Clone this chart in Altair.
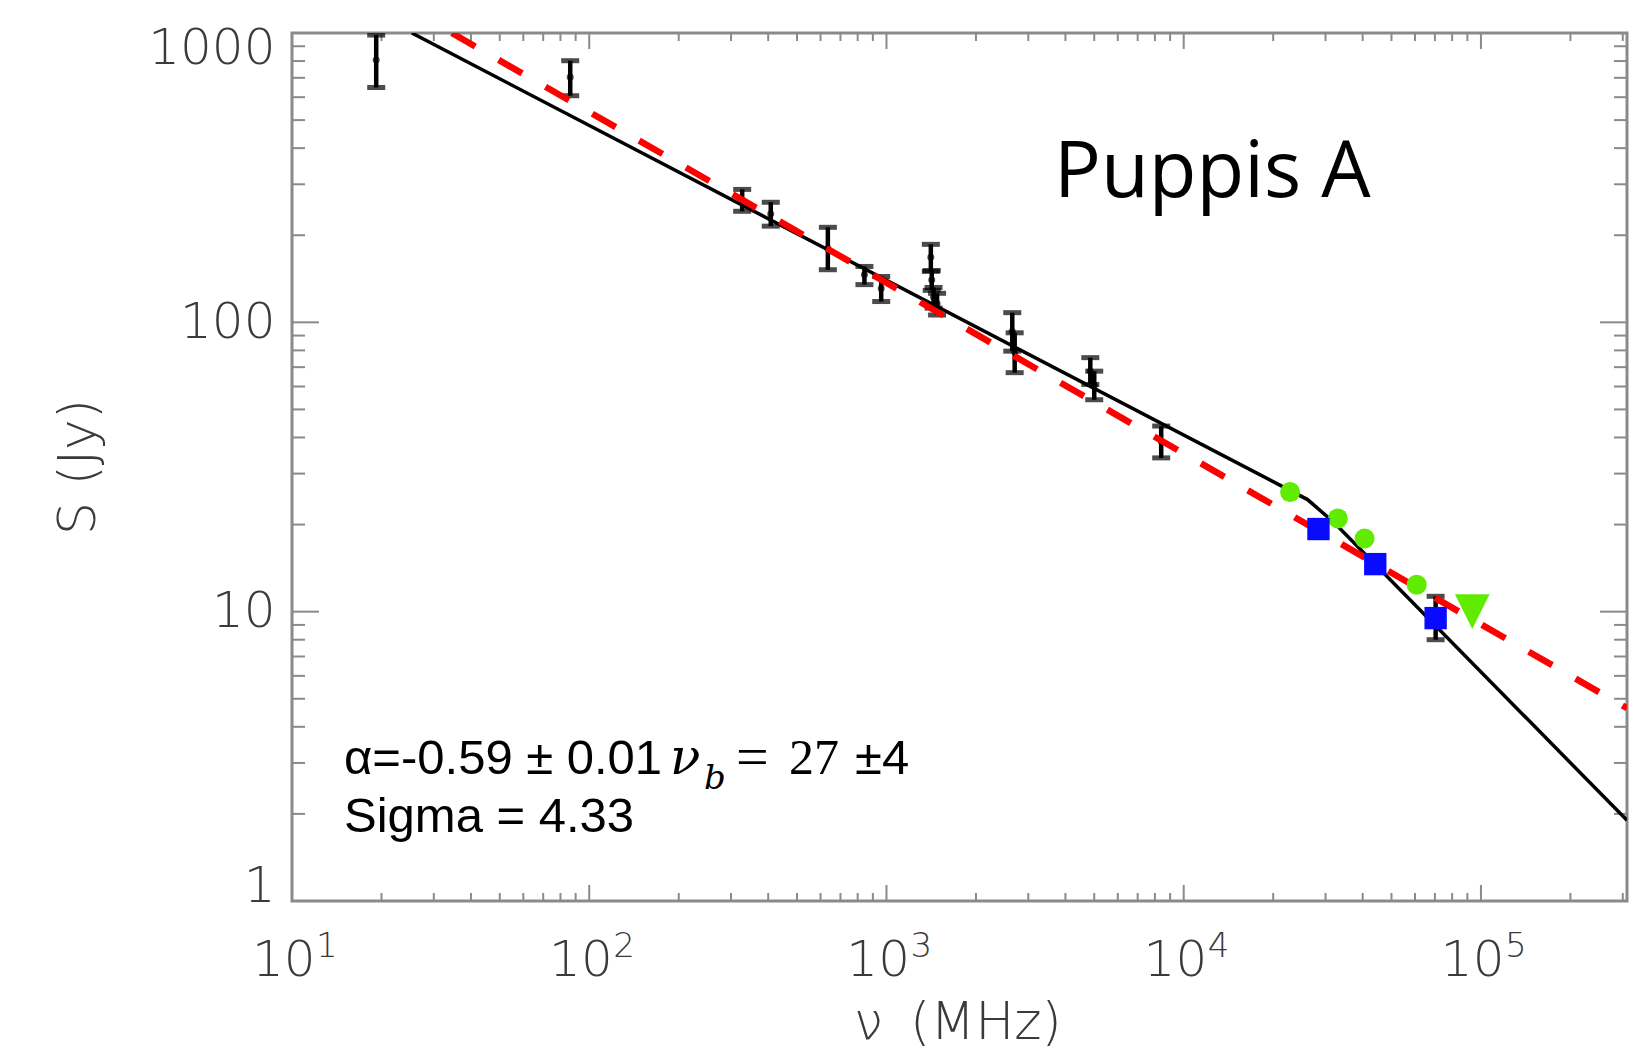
import altair as alt
import pandas as pd

# ---------------- data ----------------
# black points with error bars: frequency (MHz), flux (Jy), lower, upper
eb_freq = [19.2, 86.3, 327, 408, 635, 843, 960, 1410, 1420, 1440, 1480,
           2650, 2700, 4850, 5000, 8400, 70400]
eb_flux = [807, 703, 264, 237, 180, 146, 131, 168, 140, 122, 116,
           93, 79, 67.8, 60.5, 38.7, 9.5]
eb_lo = [648, 607, 242, 215, 152, 135, 118, 150, 129, 112, 106,
         79.5, 67, 61, 54, 34.0, 8.0]
eb_hi = [984, 802, 288, 260, 213, 156, 144, 186, 151, 132, 126,
         108, 92, 75.5, 67.8, 43.8, 11.3]

# WMAP (green circles) and upper limit (green triangle)
wmap_freq = [22800, 33000, 40600, 60800]
wmap_flux = [25.9, 21.0, 17.9, 12.4]
lim_freq = [93500]
lim_flux = [10.0]

# Planck (blue squares)
planck_freq = [28400, 44100, 70400]
planck_flux = [19.3, 14.6, 9.5]

# fitted curves (vertices)
fit_freq = [25.3, 26100, 32100, 310000]
fit_flux = [1000, 24.4, 20.3, 1.9]
pl_freq = [34.5, 310000]
pl_flux = [1000, 4.64]

# axis ticks and labels
x_major = [10, 100, 1000, 10000, 100000]
x_exp = ["1", "2", "3", "4", "5"]
x_minor = [m * d for d in [10, 100, 1000, 10000, 100000] for m in range(2, 10)
           if m * d <= 310000]
y_major = [1, 10, 100, 1000]
y_minor = [m * d for d in [1, 10, 100] for m in range(2, 10)]

# ---------------- styling ----------------
W, H = 1335, 868
FRAME = "#8a8a8a"
LABEL = "#3a3a3a"
LFONT = "DejaVu Sans"
GREEN = "#60eb00"
BLUE = "#0a0aff"

xs = alt.Scale(type="log", domain=[10, 310000], nice=False)
ys = alt.Scale(type="log", domain=[1, 1000], nice=False)

x_axis = alt.Axis(values=x_major, title=None, grid=False, ticks=False, domain=False,
                  labelExpr="'10'", labelAlign="right", labelOffset=23,
                  labelFontSize=50, labelFont=LFONT, labelFontWeight=300,
                  labelColor=LABEL, labelPadding=34, labelFlush=False)
y_axis = alt.Axis(values=y_major, title=None, grid=False, ticks=False, domain=False,
                  labelExpr="format(datum.value, 'd')",
                  labelFontSize=50, labelFont=LFONT, labelFontWeight=300,
                  labelColor=LABEL, labelPadding=17, labelFlush=True,
                  labelFlushOffset=10)


def X(f):
    return alt.X(f, type="quantitative", scale=xs, axis=x_axis)


def Y(f):
    return alt.Y(f, type="quantitative", scale=ys, axis=y_axis)


eb = pd.DataFrame({"f": eb_freq, "s": eb_flux, "lo": eb_lo, "hi": eb_hi})
wm = pd.DataFrame({"f": wmap_freq, "s": wmap_flux})
lim = pd.DataFrame({"f": lim_freq, "s": lim_flux})
pl = pd.DataFrame({"f": planck_freq, "s": planck_flux})
fit = pd.DataFrame({"f": fit_freq, "s": fit_flux})
pwl = pd.DataFrame({"f": pl_freq, "s": pl_flux})
xl = pd.DataFrame({"v": x_major, "e": x_exp})

layers = []


# ticks (inward, on all four sides)
def yticks(vals, length):
    d = pd.DataFrame({"v": vals})
    left = alt.Chart(d).mark_rule(color=FRAME, strokeWidth=2).encode(
        y=Y("v"), x=alt.value(0), x2=alt.value(length))
    right = alt.Chart(d).mark_rule(color=FRAME, strokeWidth=2).encode(
        y=Y("v"), x=alt.value(W - length), x2=alt.value(W))
    return [left, right]


def xticks(vals, length):
    d = pd.DataFrame({"v": vals})
    bottom = alt.Chart(d).mark_rule(color=FRAME, strokeWidth=2).encode(
        x=X("v"), y=alt.value(H - length), y2=alt.value(H))
    top = alt.Chart(d).mark_rule(color=FRAME, strokeWidth=2).encode(
        x=X("v"), y=alt.value(0), y2=alt.value(length))
    return [bottom, top]


layers += yticks(y_major, 27) + yticks(y_minor, 13)
layers += xticks(x_major, 16) + xticks(x_minor, 8)

# exponent of the x tick labels (superscripts)
layers.append(alt.Chart(xl).mark_text(font=LFONT, fontWeight=300, fontSize=34,
                                      color=LABEL, align="left", baseline="top",
                                      dx=24).encode(
    x=X("v"), y=alt.value(897), text="e:N"))

# fitted broken power law (black)
layers.append(alt.Chart(fit).mark_line(color="black", strokeWidth=3.5, clip=True).encode(
    x=X("f"), y=Y("s")))

# error bars
layers.append(alt.Chart(eb).mark_rule(color="black", strokeWidth=4.5, clip=True).encode(
    x=X("f"), y=Y("lo"), y2="hi"))
layers.append(alt.Chart(eb).mark_tick(color="black", orient="horizontal", size=18,
                                      thickness=5, clip=True).encode(x=X("f"), y=Y("lo")))
layers.append(alt.Chart(eb).mark_tick(color="black", orient="horizontal", size=18,
                                      thickness=5, clip=True).encode(x=X("f"), y=Y("hi")))
layers.append(alt.Chart(eb).mark_point(color="black", shape="circle", filled=False,
                                       size=30, strokeWidth=1.5, clip=True).encode(
    x=X("f"), y=Y("s")))

# simple power law (red dashed)
layers.append(alt.Chart(pwl).mark_line(color="#ff0000", strokeWidth=6.5, strokeDash=[27, 27],
                                       clip=True).encode(x=X("f"), y=Y("s")))

# WMAP
layers.append(alt.Chart(wm).mark_point(shape="circle", filled=True, color=GREEN,
                                       opacity=1, size=400).encode(x=X("f"), y=Y("s")))
layers.append(alt.Chart(lim).mark_point(shape="M-1,-1L1,-1L0,1Z", filled=True,
                                        color=GREEN, opacity=1, size=1200).encode(
    x=X("f"), y=Y("s")))
# Planck
layers.append(alt.Chart(pl).mark_point(shape="square", filled=True, color=BLUE,
                                       opacity=1, size=500).encode(x=X("f"), y=Y("s")))

# ---------------- text ----------------
one = pd.DataFrame({"a": [0]})


def txt(s, x, y, size, font="Liberation Sans", color="black", style="normal",
        weight="normal", angle=0, align="left", baseline="alphabetic"):
    return alt.Chart(one).mark_text(text=s, fontSize=size, font=font, color=color,
                                    fontStyle=style, fontWeight=weight, angle=angle,
                                    align=align, baseline=baseline).encode(
        x=alt.value(x), y=alt.value(y))


layers.append(txt("Puppis A", 762, 164, 78, font="Open Sans"))
layers.append(txt("\u03b1=-0.59 \u00b1 0.01", 52, 741, 49))
layers.append(txt("\u03bd", 378, 741, 50, font="DejaVu Serif", style="italic"))
layers.append(txt("b", 412, 756, 34, font="DejaVu Serif", style="italic"))
layers.append(txt("=", 444, 743, 58, font="Liberation Serif"))
layers.append(txt("27", 497, 741, 50, font="Liberation Serif"))
layers.append(txt("\u00b14", 563, 741, 49))
layers.append(txt("Sigma = 4.33", 52, 799, 49))

# axis titles
layers.append(txt("S  (Jy)", -213, 434, 52, font=LFONT, color=LABEL, weight=300,
                  angle=270, align="center", baseline="middle"))
layers.append(txt("\u03bd", 562, 1006, 52, font=LFONT, color=LABEL, weight=300))
layers.append(txt("(MHz)", 618, 1006, 52, font=LFONT, color=LABEL, weight=300))

chart = alt.layer(*layers).properties(
    width=W, height=H,
    autosize=alt.AutoSizeParams(type="none"),
    padding={"left": 284, "top": 25, "right": 10, "bottom": 150},
).configure(background="white").configure_view(stroke=FRAME, strokeWidth=3)

chart.save("out.html", embed_options={"renderer": "svg", "actions": False})
